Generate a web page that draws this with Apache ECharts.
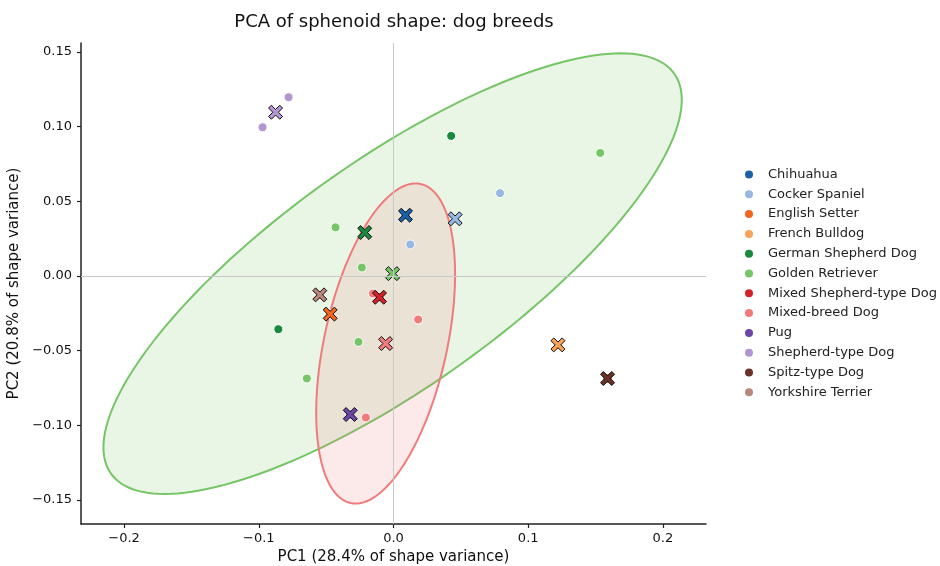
<!DOCTYPE html>
<html>
<head>
<meta charset="utf-8">
<title>PCA of sphenoid shape: dog breeds</title>
<script src="https://cdn.jsdelivr.net/npm/echarts@6/dist/echarts.min.js"></script>
<style>
html, body { margin: 0; padding: 0; background: #fff; }
#chart { width: 940px; height: 566px; }
</style>
</head>
<body>
<div id="chart"></div>
<script>
var byId = function(id) {
	return document.getElementById(id);
};

// breeds, in legend order
var breeds = ['Chihuahua', 'Cocker Spaniel', 'English Setter', 'French Bulldog',
	'German Shepherd Dog', 'Golden Retriever', 'Mixed Shepherd-type Dog', 'Mixed-breed Dog',
	'Pug', 'Shepherd-type Dog', 'Spitz-type Dog', 'Yorkshire Terrier'];
var breedColors = ['#1b5fa8', '#98b8e4', '#f2661f', '#f9a35a', '#198a3b', '#76c566',
	'#d3212a', '#ef7b7b', '#6b46a6', '#b396d1', '#6b3127', '#b9867b'];

// one entry per specimen: breed index, PC1, PC2
var sampleBreed = [0, 1, 1, 2, 3, 4, 4, 5, 5, 5, 5, 5, 6, 7, 7, 7, 8, 9, 9, 10, 11];
var samplePC1 = [0.0089, 0.0791, 0.0124, -0.0470, 0.1221, 0.0428, -0.0855,
	-0.0430, -0.0235, -0.0260, -0.0643, 0.1535, -0.0104, -0.0153, 0.0183, -0.0205,
	-0.0321, -0.0972, -0.0779, 0.1589, -0.0547];
var samplePC2 = [0.0407, 0.0555, 0.0211, -0.0255, -0.0461, 0.0938, -0.0356,
	0.0326, 0.0057, -0.0441, -0.0686, 0.0824, -0.0142, -0.0117, -0.0291, -0.0947,
	-0.0927, 0.0996, 0.1197, -0.0686, -0.0126];

var xTicks = [-0.2, -0.1, 0, 0.1, 0.2];
var yTicks = [-0.15, -0.1, -0.05, 0, 0.05, 0.1, 0.15];

var N_STD = 2.4477; // 95% confidence ellipse (chi2, 2 dof)
var FONT = 'DejaVu Sans';
var X_SYMBOL = 'path://M2,0L5,3L8,0L10,2L7,5L10,8L8,10L5,7L2,10L0,8L3,5L0,2Z';

function tickText(v, digits) {
	var s = Math.abs(v).toFixed(digits);
	return (v < -1e-9 ? '\u2212' : '') + s;
}

function groupOf(idx) {
	var xs = [], ys = [];
	for (var i = 0; i < sampleBreed.length; i++) {
		if (sampleBreed[i] === idx) {
			xs.push(samplePC1[i]);
			ys.push(samplePC2[i]);
		}
	}
	return { xs: xs, ys: ys };
}

function mean(a) {
	var s = 0;
	for (var i = 0; i < a.length; i++) s += a[i];
	return s / a.length;
}

// ring of points of the covariance ellipse, in data units
function ellipseRing(g) {
	var n = g.xs.length;
	var mx = mean(g.xs), my = mean(g.ys);
	var sxx = 0, syy = 0, sxy = 0;
	for (var i = 0; i < n; i++) {
		var dx = g.xs[i] - mx, dy = g.ys[i] - my;
		sxx += dx * dx; syy += dy * dy; sxy += dx * dy;
	}
	sxx /= (n - 1); syy /= (n - 1); sxy /= (n - 1);
	var l11 = Math.sqrt(sxx);
	var l21 = sxy / l11;
	var l22 = Math.sqrt(Math.max(syy - l21 * l21, 0));
	var ring = [];
	for (var k = 0; k < 180; k++) {
		var t = k / 180 * Math.PI * 2;
		var c = Math.cos(t), s = Math.sin(t);
		ring.push([mx + N_STD * l11 * c, my + N_STD * (l21 * c + l22 * s)]);
	}
	return ring;
}

var series = [];

// ellipses for breeds with at least 3 specimens
breeds.forEach(function(name, idx) {
	var g = groupOf(idx);
	if (g.xs.length < 3) return;
	var ring = ellipseRing(g);
	var color = breedColors[idx];
	series.push({
		name: name + ' ellipse',
		type: 'custom',
		z: 1,
		silent: true,
		data: [[mean(g.xs), mean(g.ys)]],
		renderItem: function(params, api) {
			var pts = ring.map(function(p) { return api.coord(p); });
			return {
				type: 'polygon',
				shape: { points: pts },
				style: {
					fill: echarts.color.modifyAlpha(color, 0.16),
					stroke: color,
					lineWidth: 2
				}
			};
		}
	});
});

// zero lines
series.push({
	name: 'zero',
	type: 'scatter',
	data: [],
	z: 2,
	silent: true,
	markLine: {
		silent: true,
		symbol: ['none', 'none'],
		label: { show: false },
		lineStyle: { color: '#c9c9c9', width: 1, type: 'solid' },
		data: [{ xAxis: 0 }, { yAxis: 0 }]
	}
});

// specimens
breeds.forEach(function(name, idx) {
	var g = groupOf(idx);
	var pts = [];
	for (var i = 0; i < g.xs.length; i++) pts.push([g.xs[i], g.ys[i]]);
	series.push({
		name: name,
		type: 'scatter',
		z: 3,
		symbol: 'circle',
		symbolSize: 9,
		itemStyle: { color: breedColors[idx], borderColor: '#fff', borderWidth: 1, opacity: 1 },
		data: pts
	});
});

// breed means
var meanData = breeds.map(function(name, idx) {
	var g = groupOf(idx);
	return { value: [mean(g.xs), mean(g.ys)], itemStyle: { color: breedColors[idx] } };
});
series.push({
	name: 'breed mean',
	type: 'scatter',
	z: 4,
	symbol: X_SYMBOL,
	symbolSize: 14,
	itemStyle: { borderColor: '#111', borderWidth: 1, opacity: 1 },
	data: meanData
});

var chart = echarts.init(byId('chart'));
chart.setOption({
	animation: false,
	backgroundColor: '#fff',
	textStyle: { fontFamily: FONT },
	title: {
		text: 'PCA of sphenoid shape: dog breeds',
		left: 389,
		top: 8,
		textAlign: 'center',
		textStyle: { fontFamily: FONT, fontSize: 18, fontWeight: 'normal', color: '#111' }
	},
	legend: {
		orient: 'vertical',
		left: 738,
		top: 163,
		itemWidth: 10,
		itemHeight: 10,
		itemGap: 6.8,
		icon: 'circle',
		data: breeds,
		textStyle: { fontFamily: FONT, fontSize: 13, color: '#222', lineHeight: 12, padding: [0, 0, 0, 9] }
	},
	grid: { left: 81, right: 234, top: 43, bottom: 42, outerBoundsMode: 'none' },
	xAxis: {
		type: 'value',
		min: -0.232,
		max: 0.232,
		name: 'PC1 (28.4% of shape variance)',
		nameLocation: 'middle',
		nameGap: 25,
		nameTextStyle: { fontFamily: FONT, fontSize: 15, color: '#111' },
		axisLine: { onZero: false, lineStyle: { color: '#222', width: 1.5 } },
		axisTick: { customValues: xTicks, length: 4, lineStyle: { color: '#222', width: 1.2 } },
		axisLabel: {
			customValues: xTicks,
			margin: 8,
			fontSize: 13,
			color: '#111',
			formatter: function(v) { return tickText(v, 1); }
		},
		splitLine: { show: false }
	},
	yAxis: {
		type: 'value',
		min: -0.166,
		max: 0.156,
		name: 'PC2 (20.8% of shape variance)',
		nameLocation: 'middle',
		nameGap: 49,
		nameTextStyle: { fontFamily: FONT, fontSize: 15, color: '#111' },
		axisLine: { onZero: false, lineStyle: { color: '#222', width: 1.5 } },
		axisTick: { customValues: yTicks, length: 4, lineStyle: { color: '#222', width: 1.2 } },
		axisLabel: {
			customValues: yTicks,
			margin: 9,
			fontSize: 13,
			color: '#111',
			formatter: function(v) { return tickText(v, 2); }
		},
		splitLine: { show: false }
	},
	series: series
});
</script>
</body>
</html>
